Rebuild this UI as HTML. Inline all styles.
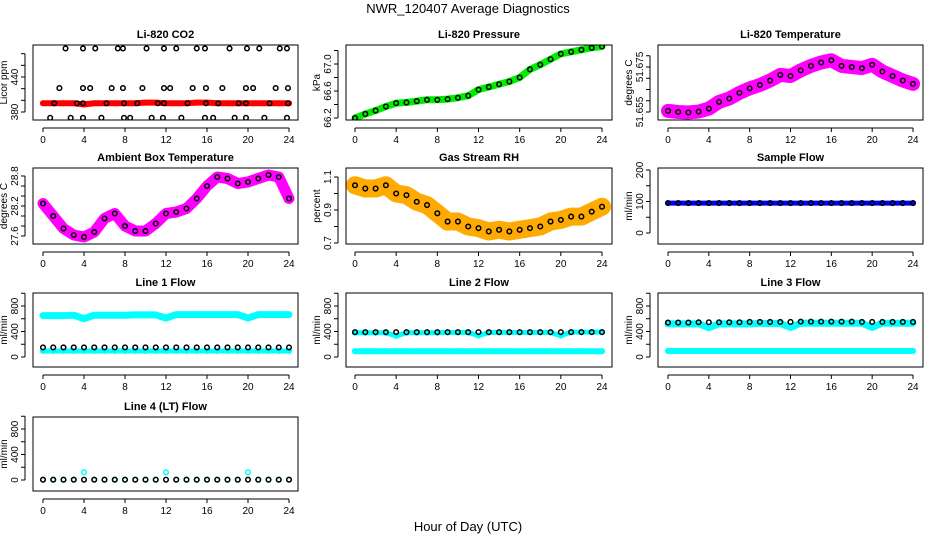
<!DOCTYPE html>
<html><head><meta charset="utf-8"><style>
body{margin:0;background:#fff}
svg{display:block;font-family:"Liberation Sans",sans-serif}
</style></head><body>
<svg id="c" width="936" height="540">
<text x="468" y="13" text-anchor="middle" font-size="13">NWR_120407  Average Diagnostics</text>
<text x="468" y="531" text-anchor="middle" font-size="13">Hour of Day (UTC)</text>
</svg>
<script>
const hours=[0,1,2,3,4,5,6,7,8,9,10,11,12,13,14,15,16,17,18,19,20,21,22,23,24];
const xTicks=[0,4,8,12,16,20,24];
const co2Red=[395,395,395,395,393,395,395,395,395,395,396,396,395,395,395,396,396,395,395,395,395,395,395,395,395];
const co2BlackT=[0.7,2.7,3.9,5.7,7.9,8.5,10.6,11.7,13.5,15.8,16.6,18.7,19.8,21.6,23.8,1.1,3.3,3.9,6.2,7.9,9.2,11.2,11.8,14.1,15.9,17.1,19.1,19.8,22.1,23.9,1.6,3.9,4.6,6.7,7.8,9.7,11.8,12.4,14.6,15.9,17.5,19.8,20.5,22.7,23.9,2.2,3.9,5.1,7.3,7.8,10.1,11.8,13.0,15.0,15.8,18.2,19.9,21.1,23.1,23.8];
const co2BlackV=[370,370,370,370,370,370,370,370,370,370,370,370,370,370,370,395,395,395,395,395,395,395,395,395,395,395,395,395,395,395,421,421,421,421,421,421,421,421,421,421,421,421,421,421,421,489,489,489,489,489,489,489,489,489,489,489,489,489,489,489];
const pressure=[66.2,66.26,66.31,66.37,66.42,66.43,66.45,66.47,66.47,66.48,66.5,66.53,66.62,66.66,66.7,66.74,66.8,66.92,66.99,67.07,67.15,67.18,67.21,67.24,67.26];
const liTemp=[51.6555,51.655,51.6548,51.6552,51.6565,51.6595,51.661,51.6635,51.6655,51.667,51.669,51.6715,51.671,51.6735,51.6755,51.677,51.678,51.6755,51.675,51.6745,51.676,51.673,51.671,51.669,51.6675];
const ambTemp=[28.25,28.0,27.75,27.62,27.58,27.68,27.95,28.05,27.8,27.7,27.7,27.85,28.05,28.08,28.15,28.35,28.6,28.78,28.75,28.65,28.68,28.75,28.82,28.78,28.35];
const rh=[1.05,1.03,1.03,1.05,1.0,0.99,0.95,0.93,0.88,0.83,0.83,0.8,0.79,0.77,0.78,0.77,0.78,0.79,0.8,0.83,0.84,0.86,0.86,0.89,0.92];
const sampleFlow=[95,95,95,95,95,95,95,95,95,95,95,95,95,95,95,95,95,95,95,95,95,95,95,95,95];
const l1Upper=[650,650,650,655,600,655,655,655,655,660,660,660,610,665,665,665,665,665,665,665,610,665,665,665,665];
const l1Lower=[95,95,95,95,95,95,95,95,95,95,95,95,95,95,95,95,95,95,95,95,95,95,95,95,95];
const l1Black=[150,150,150,150,150,150,150,150,150,150,150,150,150,150,150,150,150,150,150,150,150,150,150,150,150];
const l2Upper=[380,380,380,380,330,380,380,380,380,385,385,385,335,385,385,385,385,385,385,385,335,390,390,390,390];
const l2Lower=[90,90,90,90,90,90,90,90,90,90,90,90,90,90,90,90,90,90,90,90,90,90,90,90,90];
const l2Black=[390,390,390,390,390,390,390,390,390,390,390,390,390,390,390,390,390,390,390,390,390,390,390,390,390];
const l3Upper=[520,520,520,520,460,520,520,520,520,525,525,525,465,530,530,530,530,530,530,530,465,530,530,530,530];
const l3Lower=[95,95,95,95,95,95,95,95,95,95,95,95,95,95,95,95,95,95,95,95,95,95,95,95,95];
const l3Black=[540,540,540,545,545,545,545,545,550,550,550,550,550,555,555,555,555,555,555,550,550,550,550,550,550];
const l4Cyan=[5,5,5,5,120,5,5,5,5,5,5,5,120,5,5,5,5,5,5,5,120,5,5,5,5];
const l4Black=[5,5,5,5,5,5,5,5,5,5,5,5,5,5,5,5,5,5,5,5,5,5,5,5,5];

const svg=document.getElementById('c');
const NS='http://www.w3.org/2000/svg';
function mk(tag,attrs,parent){const e=document.createElementNS(NS,tag);for(const k in attrs)e.setAttribute(k,attrs[k]);(parent||svg).appendChild(e);return e;}
const colX=[[33,298,43,289],[346,612,355,602],[658,923,668,913]];
const rowY=[[45,120],[168,244],[293,367],[417,491]];

function panel(cfg){
  const [bl,br,x0,x24]=colX[cfg.col];const [bt,bb]=rowY[cfg.row];
  const g=mk('g',{});
  
  
  const xs=v=>x0+(x24-x0)*v/24;
  const ys=v=>cfg.y0px+(v-cfg.y0)*(cfg.y1px-cfg.y0px)/(cfg.y1-cfg.y0);
  const t=mk('text',{x:(bl+br)/2,y:bt-7,'text-anchor':'middle','font-size':11,'font-weight':'bold'},g);
  t.textContent=cfg.title;
  
  
  const clip='cl'+cfg.col+cfg.row;
  const cp=mk('clipPath',{id:clip},g);mk('rect',{x:bl,y:bt,width:br-bl,height:bb-bt},cp);
  const pg=mk('g',{'clip-path':'url(#'+clip+')'},g);
  (cfg.series||[]).forEach(s=>{
    const T=s.t||hours;
    if(s.w!=null && s.cloud!==false){
      const pts=T.map((h,i)=>xs(h)+','+ys(s.v[i])).join(' ');
      const pl=mk('polyline',{points:pts,fill:'none',stroke:s.color,'stroke-width':s.w,'stroke-linejoin':'round','stroke-linecap':'round'},pg);
      
      
    }
    T.forEach((h,i)=>{
      const c=mk('circle',{cx:xs(h),cy:ys(s.v[i]),r:2.3,fill:'none',stroke:s.pt||s.color,'stroke-width':1.5},pg);
      
      
    });
  });
  const box=mk('rect',{x:bl,y:bt,width:br-bl,height:bb-bt,fill:'none',stroke:'#000','stroke-width':1},g);
  
  
  const ax=bb+8;
  mk('line',{x1:x0,x2:x24,y1:ax,y2:ax,stroke:'#000'},g);
  xTicks.forEach(v=>{
    mk('line',{x1:xs(v),x2:xs(v),y1:ax,y2:ax+4,stroke:'#000'},g);
    if(cfg.xlab){const tx=mk('text',{x:xs(v),y:ax+15,'text-anchor':'middle','font-size':10},g);tx.textContent=v;}
  });
  const yx=bl-8;
  mk('line',{x1:yx,x2:yx,y1:ys(cfg.ticks[0]),y2:ys(cfg.ticks[cfg.ticks.length-1]),stroke:'#000'},g);
  cfg.ticks.forEach((v,i)=>{
    mk('line',{x1:yx-4,x2:yx,y1:ys(v),y2:ys(v),stroke:'#000'},g);
    const lab=cfg.labels[i];
    if(lab){const tx=mk('text',{x:yx-7,y:ys(v),'text-anchor':'middle','font-size':10,transform:'rotate(-90 '+(yx-7)+' '+ys(v)+')'},g);tx.textContent=lab;}
  });
  const yl=mk('text',{x:bl-26,y:(bt+bb)/2,'text-anchor':'middle','font-size':10,transform:'rotate(-90 '+(bl-26)+' '+((bt+bb)/2)+')'},g);
  yl.textContent=cfg.ylab;
  
  
}
const flowTicks=[0,200,400,600,800,1000],flowLabs=['0','','400','','800',''];
panel({name:'co2-panel',title:'Li-820 CO2',ylab:'Licor ppm',col:0,row:0,y0:380,y1:440,y0px:112,y1px:77,ticks:[380,400,420,440,460,480],labels:['380','','','440','',''],xlab:true,
  series:[{v:co2Red,color:'#ff0000',pt:'#ff0000',w:6},{t:co2BlackT,v:co2BlackV,color:'#000'}]});
panel({name:'pressure-panel',title:'Li-820 Pressure',ylab:'kPa',col:1,row:0,y0:66.2,y1:67.0,y0px:118,y1px:64,ticks:[66.2,66.4,66.6,66.8,67.0,67.2],labels:['66.2','','66.6','','67.0',''],xlab:true,
  series:[{v:pressure,color:'#00ee00',pt:'#000',w:7}]});
panel({name:'li820-temp-panel',title:'Li-820 Temperature',ylab:'degrees C',col:2,row:0,y0:51.655,y1:51.675,y0px:112,y1px:67,ticks:[51.655,51.66,51.665,51.67,51.675,51.68],labels:['51.655','','','','51.675',''],xlab:true,
  series:[{v:liTemp,color:'#ff00ff',pt:'#000',w:14}]});
panel({name:'ambient-temp-panel',title:'Ambient Box Temperature',ylab:'degrees C',col:0,row:1,y0:27.6,y1:28.8,y0px:236,y1px:176,ticks:[27.6,27.8,28.0,28.2,28.4,28.6,28.8],labels:['27.6','','','28.2','','','28.8'],xlab:true,
  series:[{v:ambTemp,color:'#ff00ff',pt:'#000',w:11}]});
panel({name:'rh-panel',title:'Gas Stream RH',ylab:'percent',col:1,row:1,y0:0.7,y1:1.1,y0px:243,y1px:177,ticks:[0.7,0.8,0.9,1.0,1.1],labels:['0.7','','0.9','','1.1'],xlab:true,
  series:[{v:rh,color:'#ffaa00',pt:'#000',w:18}]});
panel({name:'sample-flow-panel',title:'Sample Flow',ylab:'ml/min',col:2,row:1,y0:0,y1:200,y0px:233,y1px:170,ticks:[0,50,100,150,200],labels:['0','','100','','200'],xlab:true,
  series:[{v:sampleFlow,color:'#0000ff',pt:'#000',w:5}]});
panel({name:'line1-flow-panel',title:'Line 1 Flow',ylab:'ml/min',col:0,row:2,y0:0,y1:800,y0px:357,y1px:306,ticks:flowTicks,labels:flowLabs,xlab:true,
  series:[{v:l1Upper,color:'#00ffff',w:7},{v:l1Lower,color:'#00ffff',w:5},{v:l1Black,color:'#000'}]});
panel({name:'line2-flow-panel',title:'Line 2 Flow',ylab:'ml/min',col:1,row:2,y0:0,y1:800,y0px:357,y1px:306,ticks:flowTicks,labels:flowLabs,xlab:true,
  series:[{v:l2Upper,color:'#00ffff',w:5},{v:l2Lower,color:'#00ffff',w:6},{v:l2Black,color:'#000'}]});
panel({name:'line3-flow-panel',title:'Line 3 Flow',ylab:'ml/min',col:2,row:2,y0:0,y1:800,y0px:357,y1px:306,ticks:flowTicks,labels:flowLabs,xlab:true,
  series:[{v:l3Upper,color:'#00ffff',w:7},{v:l3Lower,color:'#00ffff',w:6},{v:l3Black,color:'#000'}]});
panel({name:'line4-flow-panel',title:'Line 4 (LT) Flow',ylab:'ml/min',col:0,row:3,y0:0,y1:800,y0px:480,y1px:429,ticks:flowTicks,labels:flowLabs,xlab:true,
  series:[{v:l4Cyan,color:'#00ffff'},{v:l4Black,color:'#000'}]});
</script>
</body></html>
